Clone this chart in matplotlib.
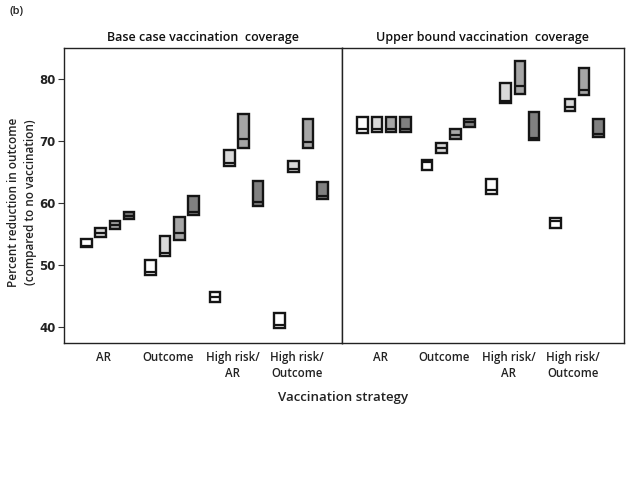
import matplotlib
matplotlib.use("Agg")
import matplotlib.pyplot as plt
import numpy as np

categories = ["AR", "Outcome", "High risk/\nAR", "High risk/\nOutcome"]
panels = ["Base case vaccination  coverage", "Upper bound vaccination  coverage"]
colors = ["#ffffff", "#d9d9d9", "#a6a6a6", "#808080"]

# [category][series] values: low, mid, high
base_low = [[52.9, 54.5, 55.8, 57.4],
            [48.3, 51.4, 54.1, 58.1],
            [44.0, 65.9, 68.8, 59.5],
            [39.8, 65.0, 68.8, 60.6]]
base_mid = [[53.1, 55.2, 56.4, 57.9],
            [48.8, 51.9, 55.1, 58.6],
            [44.8, 66.4, 70.3, 60.1],
            [40.3, 65.4, 69.8, 61.1]]
base_high = [[54.2, 55.9, 57.1, 58.6],
             [50.8, 54.6, 57.8, 61.2],
             [45.6, 68.6, 74.3, 63.6],
             [42.2, 66.7, 73.5, 63.3]]

upper_low = [[71.3, 71.5, 71.5, 71.4],
             [65.3, 68.0, 70.3, 72.3],
             [61.5, 76.1, 77.5, 70.1],
             [55.9, 74.8, 77.4, 70.7]]
upper_mid = [[71.9, 72.0, 72.0, 72.0],
             [66.6, 68.8, 71.0, 73.0],
             [62.1, 76.5, 78.9, 70.5],
             [57.1, 75.4, 78.2, 71.2]]
upper_high = [[73.9, 73.9, 73.9, 73.9],
              [66.9, 69.6, 71.9, 73.6],
              [63.8, 79.4, 82.9, 74.7],
              [57.5, 76.8, 81.8, 73.5]]

yticks = [40, 50, 60, 70, 80]

fig = plt.figure(figsize=(6.4, 4.8), dpi=100)
L, R, B, T = 64/640, 624/640, 1-343/480, 1-48/480
mid_x = 342/640
ax1 = fig.add_axes([L, B, mid_x - L, T - B])
ax2 = fig.add_axes([mid_x, B, R - mid_x, T - B], sharey=ax1)

font = "Open Sans"
spacing = 0.222
bw = 0.165
data = [(base_low, base_mid, base_high), (upper_low, upper_mid, upper_high)]
xlims = [(-0.68, 3.64), (-0.653, 3.73)]

for ax, (lo, md, hi), title, xl in zip([ax1, ax2], data, panels, xlims):
    for ci in range(len(categories)):
        for si in range(4):
            x = ci + (si - 1.5) * spacing
            l, m, h = lo[ci][si], md[ci][si], hi[ci][si]
            ax.bar(x, h - l, bottom=l, width=bw, color=colors[si],
                   edgecolor="#151515", linewidth=1.7, zorder=3)
            ax.hlines(m, x - bw/2, x + bw/2, color="#151515", linewidth=1.6, zorder=4)
    ax.set_xlim(*xl)
    ax.set_xticks(np.arange(len(categories)) - 0.06)
    ax.set_xticklabels(categories, fontsize=8.3, family=font, fontweight="semibold",
                       color="#222222", linespacing=1.3)
    ax.tick_params(axis="x", length=0, pad=6)
    ax.set_title(title, fontsize=9, family=font, fontweight="semibold", pad=5, color="#111111")
    for s in ax.spines.values():
        s.set_linewidth(1.0)
        s.set_color("#222222")

ax1.set_ylim(37.4, 85.0)
ax1.set_yticks(yticks)
ax1.tick_params(axis="y", length=4, width=0.8, pad=2, labelsize=8.5, colors="#333333")
for t in ax1.get_yticklabels():
    t.set_fontweight("bold")
    t.set_color("#222222")
ax2.tick_params(axis="y", left=False, labelleft=False)

fig.text(22/640, 1-202/480, "Percent reduction in outcome\n(compared to no vaccination)",
         rotation=90, ha="center", va="center", fontsize=8.5, family=font,
         fontweight="semibold", color="#222222", linespacing=1.45)
fig.text(343/640, 1-398/480, "Vaccination strategy", ha="center", va="center",
         fontsize=9.5, family=font, fontweight="semibold", color="#222222")
fig.text(10/640, 1-12/480, "(b)", ha="left", va="center", fontsize=8,
         family=font, fontweight="semibold", color="#222222")

fig.savefig("out.png", dpi=100)
